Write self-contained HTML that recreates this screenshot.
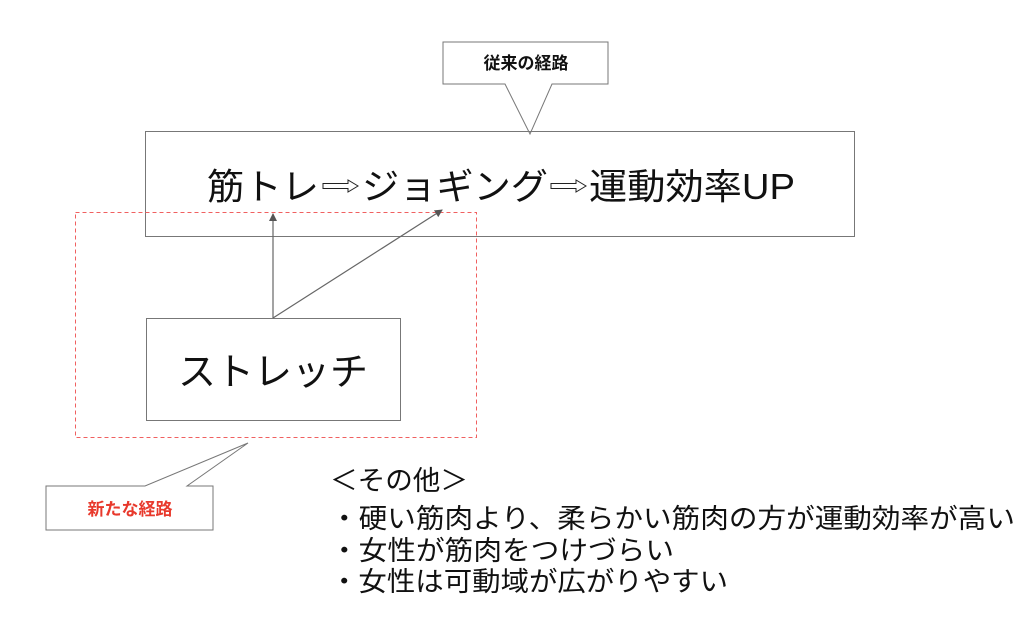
<!DOCTYPE html>
<html><head><meta charset="utf-8"><style>
html,body{margin:0;padding:0;background:#fff;}
svg{display:block;}
text{font-family:"Liberation Sans","Noto Sans CJK JP",sans-serif;}
</style></head><body>
<svg width="1024" height="621" viewBox="0 0 1024 621" xmlns="http://www.w3.org/2000/svg">
<defs>
<marker id="ah" markerWidth="8" markerHeight="8" refX="7" refY="4" orient="auto" markerUnits="userSpaceOnUse">
<path d="M0,0 L8,4 L0,8 z" fill="#555"/>
</marker>
</defs>
<!-- top callout -->
<path d="M443,42 H608 V84 H552 L530,134 L505,84 H443 Z" fill="#fff" stroke="#777" stroke-width="1"/>
<text x="526" y="69" font-size="17" font-weight="bold" text-anchor="middle" fill="#111">従来の経路</text>
<!-- main box -->
<rect x="145.5" y="131.5" width="709" height="105" fill="none" stroke="#777" stroke-width="1"/>
<text x="207" y="199" font-size="36" textLength="112" lengthAdjust="spacingAndGlyphs" fill="#111">筋トレ</text>
<path d="M323,183.5 H348 V180 L358,186 L348,192 V188.5 H323 Z" fill="none" stroke="#222" stroke-width="1"/>
<text x="362" y="199" font-size="36" textLength="186" lengthAdjust="spacingAndGlyphs" fill="#111">ジョギング</text>
<path d="M551,183.5 H576 V180 L586,186 L576,192 V188.5 H551 Z" fill="none" stroke="#222" stroke-width="1"/>
<text x="589" y="199" font-size="36" textLength="206" lengthAdjust="spacingAndGlyphs" fill="#111">運動効率UP</text>
<!-- red dashed -->
<rect x="75.5" y="212.5" width="401" height="225" fill="none" stroke="#f06060" stroke-width="1" stroke-dasharray="4,3"/>
<!-- stretch box -->
<rect x="146.5" y="318.5" width="254" height="102" fill="#fff" stroke="#777" stroke-width="1"/>
<text x="273" y="385" font-size="38" text-anchor="middle" fill="#111">ストレッチ</text>
<!-- arrows -->
<line x1="273" y1="318" x2="273" y2="214" stroke="#666" stroke-width="1.2" marker-end="url(#ah)"/>
<line x1="273" y1="318" x2="442" y2="210" stroke="#666" stroke-width="1.2" marker-end="url(#ah)"/>
<!-- bottom callout -->
<path d="M46,486 H145 L248,443 L187,486 H213 V530 H46 Z" fill="#fff" stroke="#777" stroke-width="1"/>
<text x="130" y="515" font-size="17" font-weight="bold" text-anchor="middle" fill="#e8392c">新たな経路</text>
<!-- notes -->
<text x="330" y="490" font-size="27" fill="#111" textLength="138" lengthAdjust="spacingAndGlyphs">＜その他＞</text>
<text x="330" y="528" font-size="27" fill="#111" textLength="685" lengthAdjust="spacingAndGlyphs">・硬い筋肉より、柔らかい筋肉の方が運動効率が高い</text>
<text x="330" y="560" font-size="27" fill="#111" textLength="344" lengthAdjust="spacingAndGlyphs">・女性が筋肉をつけづらい</text>
<text x="330" y="591" font-size="27" fill="#111" textLength="398" lengthAdjust="spacingAndGlyphs">・女性は可動域が広がりやすい</text>
</svg>
</body></html>
